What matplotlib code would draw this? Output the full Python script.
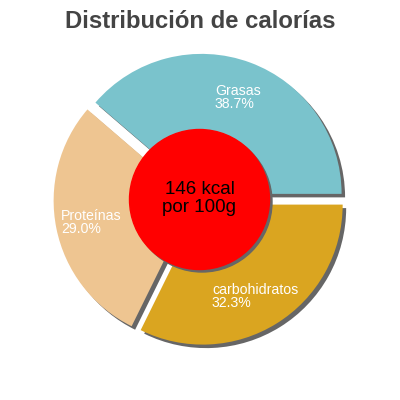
import matplotlib
matplotlib.use("Agg")
import matplotlib.pyplot as plt

categories = ["Grasas", "Proteínas", "carbohidratos"]
values = [38.7, 29.0, 32.3]
pct_labels = ["38.7%", "29.0%", "32.3%"]
colors = ["#7AC3CC", "#EEC591", "#DAA520"]
center_text = "146 kcal\npor 100g"
title = "Distribución de calorías"

# label positions in pixel coords (left, top)
label_pos = [(215, 84), (61, 209), (212, 283)]

fig = plt.figure(figsize=(4, 4), dpi=100)
ax = fig.add_axes([0, 0, 1, 1])
ax.axis("off")

R = 140
explode = [6, 6, 6]
cx, cy = -0.5, 0.5
sh = 3.5

# shadows
ax.pie(values, radius=R, center=(cx + sh, cy - sh), startangle=0, counterclock=True,
       explode=explode, colors=["#666666"] * 3, wedgeprops=dict(linewidth=0))
ax.pie(values, radius=R, center=(cx, cy), startangle=0, counterclock=True,
       explode=explode, colors=colors, wedgeprops=dict(linewidth=0))
ax.set_xlim(-200, 200)
ax.set_ylim(-200, 200)
ax.set_aspect("equal")

ax.add_patch(plt.Circle((cx + 2.5, cy - 2.5), 70, color="#666666", zorder=5))
ax.add_patch(plt.Circle((cx, cy), 70, color="#FF0000", zorder=6))
ax.text(cx, cy + 1, center_text, ha="center", va="center", fontsize=13.5,
        family="Liberation Sans", color="black", zorder=7, linespacing=1.05)

for name, pct, (px, py) in zip(categories, pct_labels, label_pos):
    ax.text(px - 200, 200 - py, name + "\n" + pct, ha="left", va="top",
            fontsize=10.2, family="Liberation Sans", color="white",
            linespacing=0.88, zorder=8)

fig.text(0.5, 1 - 22 / 400, title, ha="center", va="center", fontsize=17.2,
         fontweight="bold", family="Liberation Sans", color="#444444")

fig.savefig("out.png", dpi=100)
